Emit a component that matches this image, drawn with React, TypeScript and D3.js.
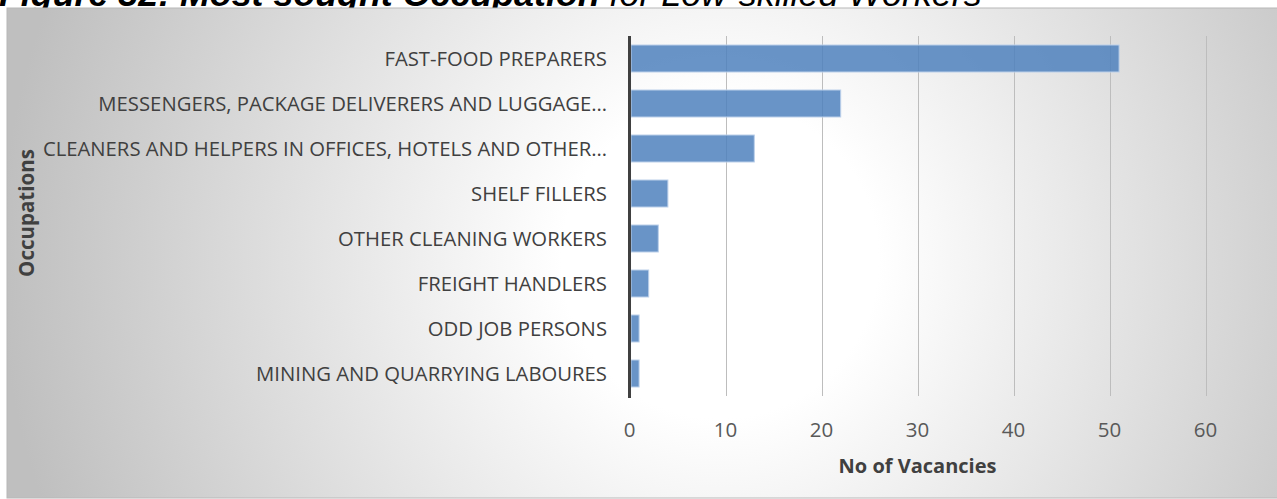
import React from "react";
import * as d3 from "d3";

const categories = [
  "FAST-FOOD PREPARERS",
  "MESSENGERS, PACKAGE DELIVERERS AND LUGGAGE…",
  "CLEANERS AND HELPERS IN OFFICES, HOTELS AND OTHER…",
  "SHELF FILLERS",
  "OTHER CLEANING WORKERS",
  "FREIGHT HANDLERS",
  "ODD JOB PERSONS",
  "MINING AND QUARRYING LABOURES",
];
const vacancies = [51, 22, 13, 4, 3, 2, 1, 1];
const xTicks = [0, 10, 20, 30, 40, 50, 60];

const W = 1277;
const H = 499;
const plot = { left: 629.5, right: 1205.5, top: 36, bottom: 396 };
const labelFont = "'Open Sans', 'Liberation Sans', sans-serif";

export default function App() {
  const x = d3.scaleLinear().domain([0, 60]).range([plot.left, plot.right]);
  const y = d3
    .scaleBand<string>()
    .domain(categories)
    .range([plot.top, plot.bottom])
    .paddingInner(0.4)
    .paddingOuter(0.2);

  return (
    <svg
      width={W}
      height={H}
      style={{ position: "absolute", left: 0, top: 0, display: "block" }}
    >
      <defs>
        <radialGradient id="bg" gradientUnits="userSpaceOnUse" cx={720} cy={260} r={720}>
          <stop offset="0" stopColor="#ffffff" />
          <stop offset="0.22" stopColor="#ffffff" />
          <stop offset="1" stopColor="#bfbfbf" />
        </radialGradient>
      </defs>
      <rect x={0} y={0} width={W} height={H} fill="#ffffff" />
      <text
        x={-1}
        y={5.5}
        fontFamily="'Liberation Sans', Arial, sans-serif"
        fontSize={35.8}
        fontStyle="italic"
        fill="#000"
      >
        <tspan fontWeight="bold">Figure 32: Most sought Occupation </tspan>
        <tspan>for Low-skilled Workers</tspan>
      </text>
      <rect x={7} y={8} width={W} height={490} fill="url(#bg)" stroke="#b8b8b8" strokeWidth={1} />

      {xTicks.slice(1).map((t) => (
        <line
          key={t}
          x1={Math.round(x(t)) + 0.5}
          x2={Math.round(x(t)) + 0.5}
          y1={plot.top}
          y2={plot.bottom}
          stroke="#bdbdbd"
          strokeWidth={1}
        />
      ))}

      {categories.map((c, i) => (
        <rect
          key={c}
          x={x(0) + 1.5}
          y={y(c)!}
          width={x(vacancies[i]) - x(0) - 1.5}
          height={y.bandwidth()}
          fill="#4f81bd"
          fillOpacity={0.85}
          stroke="#bcd0ea"
          strokeWidth={1}
        />
      ))}

      <line
        x1={plot.left}
        x2={plot.left}
        y1={plot.top}
        y2={plot.bottom + 2}
        stroke="#404040"
        strokeWidth={3}
      />

      {categories.map((c) => (
        <text
          key={c}
          x={607}
          y={y(c)! + y.bandwidth() / 2}
          dy="0.35em"
          textAnchor="end"
          fontFamily={labelFont}
          fontSize={20.3}
          fill="#404040"
        >
          {c}
        </text>
      ))}

      {xTicks.map((t) => (
        <text
          key={t}
          x={x(t)}
          y={430}
          dy="0.35em"
          textAnchor="middle"
          fontFamily={labelFont}
          fontSize={20.5}
          fill="#595959"
        >
          {t}
        </text>
      ))}

      <text
        x={x(30)}
        y={466}
        dy="0.35em"
        textAnchor="middle"
        fontFamily={labelFont}
        fontSize={20}
        fontWeight="bold"
        fill="#404040"
      >
        No of Vacancies
      </text>

      <text
        transform={`translate(27,${(plot.top + plot.bottom) / 2 - 3}) rotate(-90)`}
        dy="0.35em"
        textAnchor="middle"
        fontFamily={labelFont}
        fontSize={20.5}
        fontWeight="bold"
        fill="#404040"
      >
        Occupations
      </text>
    </svg>
  );
}
